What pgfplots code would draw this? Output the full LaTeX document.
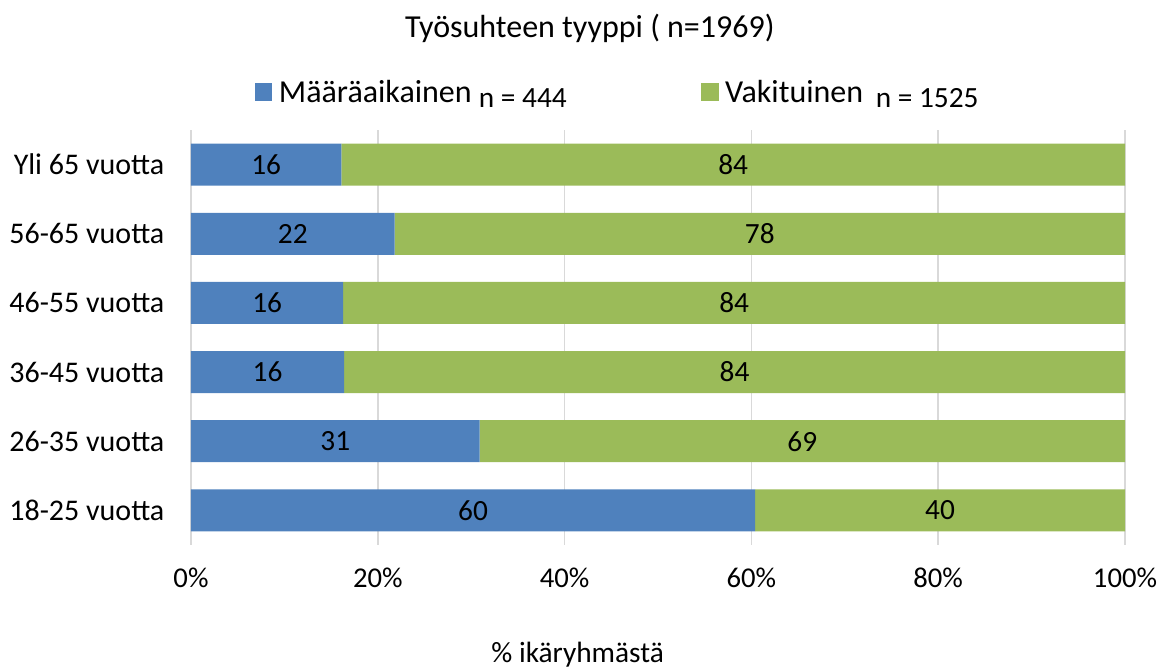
\documentclass[border=0pt]{standalone}
\usepackage{fontspec}
\setmainfont{Carlito}
\usepackage{pgfplots}
\usepackage{pgfplotstable}
\pgfplotsset{compat=1.18}
\definecolor{cblue}{HTML}{4F81BD}
\definecolor{cgreen}{HTML}{9BBB59}
\definecolor{cgrid}{HTML}{D9D9D9}
\pgfplotstableread{
y val
0 60.4
1 30.9
2 16.4
3 16.3
4 21.8
5 16.1
}\blue
\pgfplotstableread{
y val
0 39.6
1 69.1
2 83.6
3 83.7
4 78.2
5 83.9
}\green
\begin{document}
\begin{tikzpicture}
\useasboundingbox (-143.25pt,-93.75pt) rectangle (726.75pt,408.75pt);
\begin{axis}[
  at={(0,0)}, anchor=south west,
  scale only axis, width=700.5pt, height=311.25pt,
  xbar stacked, bar width=31.5pt,
  xmin=0, xmax=100, ymin=-0.5, ymax=5.5,
  axis line style={draw=none},
  xtick={0,20,...,100},
  xticklabel={\pgfmathprintnumber{\tick}\%},
  xmajorgrids, grid style={cgrid, line width=1.2pt},
  major tick length=0pt,
  xticklabel style={font=\fontsize{21.5}{24}\selectfont, yshift=-14pt},
  ytick={0,...,5},
  yticklabels={18-25 vuotta,26-35 vuotta,36-45 vuotta,46-55 vuotta,56-65 vuotta,Yli 65 vuotta},
  yticklabel style={font=\fontsize{22.5}{24}\selectfont, xshift=-16.5pt},
  /pgf/number format/assume math mode=true,
  /pgf/number format/.cd, fixed, precision=0, /pgfplots/.cd,
  nodes near coords,
  every node near coord/.append style={font=\fontsize{22}{24}\selectfont, anchor=center, text=black},
  title={Työsuhteen tyyppi ( n=1969)},
  title style={font=\fontsize{24}{26}\selectfont, at={(axis description cs:0.427,1)}, anchor=center, yshift=70.5pt},
  xlabel={\% ikäryhmästä},
  xlabel style={font=\fontsize{22}{24}\selectfont, at={(axis description cs:0.414,0)}, anchor=center, yshift=-82.5pt},
  legend columns=2,
  legend style={draw=none, fill=none, at={(axis description cs:0.0685,1.0916)}, anchor=west,
     font=\fontsize{24}{26}\selectfont, /tikz/every even column/.append style={column sep=99pt},
     inner xsep=0pt},
  legend image code/.code={\fill[#1] (0pt,-6.4pt) rectangle (12.8pt,6.4pt);},
]
\addplot[draw=none, fill=cblue, point meta=explicit] table[x=val, y=y, meta=val] {\blue};
\addlegendentry{\hspace{3pt}Määräaikainen \raisebox{-4pt}{\fontsize{22}{24}\selectfont n = 444}}
\addplot[draw=none, fill=cgreen, point meta=explicit] table[x=val, y=y, meta=val] {\green};
\addlegendentry{\hspace{3pt}Vakituinen \hspace{4pt}\raisebox{-4pt}{\fontsize{22}{24}\selectfont n = 1525}}
\end{axis}
\end{tikzpicture}
\end{document}
